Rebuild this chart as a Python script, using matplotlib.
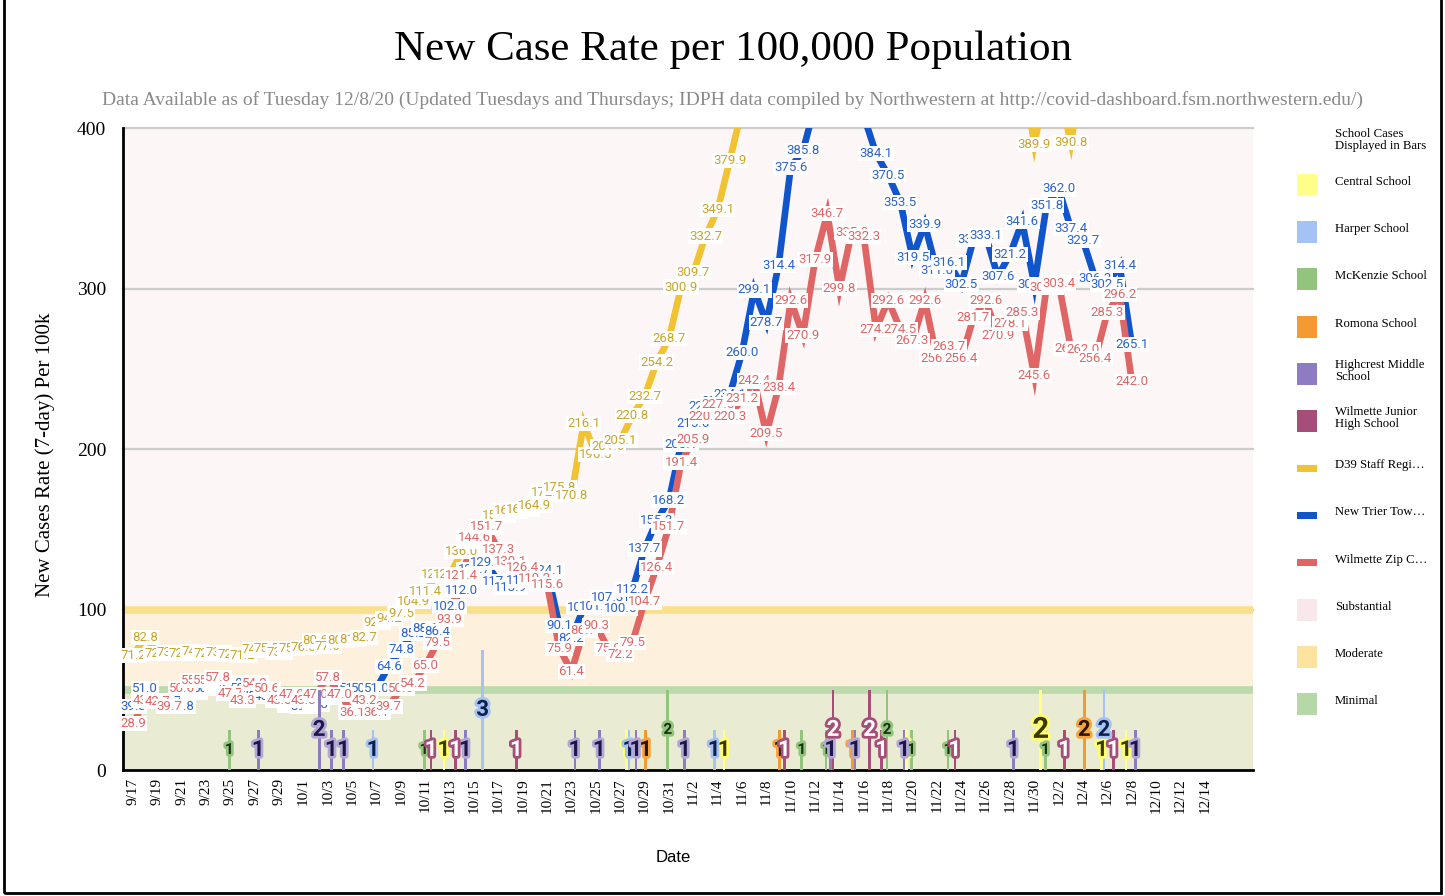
import numpy as np
import pandas as pd
import matplotlib
matplotlib.use('Agg')
import matplotlib.pyplot as plt
import matplotlib.patheffects as pe
from matplotlib.patches import Rectangle

SERIF = ['Liberation Serif', 'DejaVu Serif']
SANS = ['Liberation Sans', 'DejaVu Sans']

# one point a day, 9/17/2020 .. 12/8/2020
start = pd.Timestamp('2020-09-17')
dates = pd.date_range(start, '2020-12-08')
tick_dates = pd.date_range(start, '2020-12-14', freq='2D')
tick_labels = [f'{t.month}/{t.day}' for t in tick_dates]

# 7-day case rate per 100k (values over 400 leave the top of the chart)
d39_staff = [71.2, 82.8, 72.7, 73.4, 72.7, 74.1, 72.7, 73.4, 72.0, 71.2,
             74.8, 75.5, 73.4, 75.5, 76.3, 80.6, 77.0, 80.6, 81.3, 82.7,
             92.0, 94.2, 97.5, 104.9, 111.4, 121.5, 121.5, 136.0, 142.6, 151.0,
             158.8, 161.4, 162.1, 164.9, 172.9, 175.8, 170.8, 216.1, 196.5, 201.6,
             205.1, 220.8, 232.7, 254.2, 268.7, 300.9, 309.7, 332.7, 349.1, 379.9,
             412.0, 431.5, 445.2, 452.4, 468.3, 480.6, 497.2, 502.9, 511.6, 504.3,
             498.1, 489.4, 476.0, 465.8, 452.4, 447.3, 431.4, 425.6, 418.4, 423.3,
             430.5, 438.9, 441.8, 436.1, 389.9, 428.4, 424.9, 390.8, 437.2, 441.3,
             430.2, 426.9, 418.7]
new_trier = [39.3, 51.0, 43.4, 42.7, 39.8, 48.3, 50.6, 53.5, 54.2, 50.6,
             48.3, 45.6, 43.6, 40.5, 39.8, 40.8, 45.1, 47.0, 51.0, 50.6,
             51.0, 64.6, 74.8, 85.2, 88.1, 86.4, 102.0, 112.0, 124.7, 129.1,
             117.4, 113.9, 118.2, 120.9, 124.1, 90.1, 82.2, 101.0, 101.6, 107.3,
             100.5, 112.2, 137.7, 155.3, 168.2, 203.1, 215.6, 226.2, 229.4, 234.1,
             260.0, 299.1, 278.7, 314.4, 375.6, 385.8, 414.2, 431.0, 438.5, 425.6,
             407.3, 384.1, 370.5, 353.5, 319.5, 339.9, 311.0, 316.1, 302.5, 330.4,
             333.1, 307.6, 321.2, 341.6, 302.2, 351.8, 362.0, 337.4, 329.7, 306.3,
             302.5, 314.4, 265.1]
wilmette_zip = [28.9, 43.4, 42.7, 39.7, 50.6, 55.5, 55.5, 57.8, 47.7, 43.3,
                54.2, 50.6, 43.3, 47.0, 43.3, 47.0, 57.8, 47.0, 36.1, 43.2,
                36.1, 39.7, 50.6, 54.2, 65.0, 79.5, 93.9, 121.4, 144.6, 151.7,
                137.3, 130.1, 126.4, 119.2, 115.6, 75.9, 61.4, 86.7, 90.3, 75.9,
                72.2, 79.5, 104.7, 126.4, 151.7, 191.4, 205.9, 220.3, 227.5, 220.3,
                231.2, 242.4, 209.5, 238.4, 292.6, 270.9, 317.9, 346.7, 299.8, 335.0,
                332.3, 274.5, 292.6, 274.5, 267.3, 292.6, 256.4, 263.7, 256.4, 281.7,
                292.6, 270.9, 278.1, 285.3, 245.6, 300.9, 303.4, 262.7, 262.0, 256.4,
                285.3, 296.2, 242.0]

# school cases shown as bars
central_days = ['10/13', '10/28', '11/5', '11/20', '12/1', '12/6', '12/8']
central_cases = [1, 1, 1, 1, 2, 1, 1]
harper_days = ['10/7', '10/16', '10/28', '11/4', '12/6']
harper_cases = [1, 3, 1, 1, 2]
mckenzie_days = ['9/25', '10/11', '10/31', '11/11', '11/13', '11/18', '11/20', '11/23', '12/1']
mckenzie_cases = [1, 1, 2, 1, 1, 2, 1, 1, 1]
romona_days = ['10/29', '11/9', '11/15', '12/4']
romona_cases = [1, 1, 1, 2]
highcrest_days = ['9/27', '10/2', '10/3', '10/4', '10/14', '10/23', '10/25', '10/28',
                  '11/1', '11/13', '11/15', '11/19', '11/28', '12/8']
highcrest_cases = [1, 2, 1, 1, 1, 1, 1, 1, 1, 1, 1, 1, 1, 1]
wjhs_days = ['10/11', '10/13', '10/18', '11/9', '11/13', '11/16', '11/17', '11/23', '12/2', '12/6']
wjhs_cases = [1, 1, 1, 1, 2, 2, 1, 1, 1, 1]

# risk level bands
tier_names = ['Substantial', 'Moderate', 'Minimal']
tier_tops = [400, 100, 50]


def day_index(md):
    m, d = md.split('/')
    return (pd.Timestamp(2020, int(m), int(d)) - start).days


schools = [
    # name, days, cases, bar colour, text colour, halo colour
    ('Central School', central_days, central_cases, '#ffff8a', '#3a3a00', '#ffff70'),
    ('Harper School', harper_days, harper_cases, '#a4c2f4', '#0d1f4a', '#a4c2f4'),
    ('McKenzie School', mckenzie_days, mckenzie_cases, '#93c47d', '#163010', '#93c47d'),
    ('Romona School', romona_days, romona_cases, '#f39a33', '#2a1500', '#f6a33c'),
    ('Highcrest Middle\nSchool', highcrest_days, highcrest_cases, '#8e7cc3', '#1b1748', '#b4a7d6'),
    ('Wilmette Junior\nHigh School', wjhs_days, wjhs_cases, '#a64d79', 'white', '#a64d79'),
]
lines = [
    ('D39 Staff Regi…', d39_staff, '#f1c232', '#c9a52c'),
    ('New Trier Tow…', new_trier, '#1155cc', '#2e63c9'),
    ('Wilmette Zip C…', wilmette_zip, '#e06666', '#e06666'),
]
tier_fill = ['#fcf6f6', '#fdf1dd', '#e9ebd3']
tier_stripe = [None, '#f9e08c', '#bcdaac']
tier_swatch = ['#f9e8ea', '#fde3a0', '#b6d7a8']

fig = plt.figure(figsize=(14.45, 8.96), dpi=100)
ax = fig.add_axes([123 / 1445, 1 - 770 / 896, 1130 / 1445, 642 / 896])
xmin, xmax = -0.82, 91.95
ax.set_xlim(xmin, xmax)
ax.set_ylim(0, 400)

# background bands
for name, top, fc, sc in zip(tier_names, tier_tops, tier_fill, tier_stripe):
    ax.fill_between([xmin, xmax], 0, top, color=fc, lw=0, zorder=0)
for v in [100, 200, 300, 400]:
    ax.axhline(v, color='#cccccc', lw=1.6, zorder=0.5, clip_on=False)
for name, top, fc, sc in zip(tier_names, tier_tops, tier_fill, tier_stripe):
    if sc:
        ax.axhline(top, color=sc, lw=5.5, zorder=0.8)

# rate lines with value labels on each point
x = np.arange(len(dates))
for name, vals, c, tc in lines:
    ax.plot(x, vals, color=c, lw=4.8, solid_joinstyle='miter', zorder=3)
for name, vals, c, tc in lines:
    for xi, v in zip(x, vals):
        if v > 400:
            continue
        ax.text(xi, v, f'{v:.1f}', ha='center', va='center', fontsize=9.5,
                family=['Roboto', 'DejaVu Sans'], color=tc, zorder=4,
                bbox=dict(boxstyle='square,pad=0.08', fc='white', ec='none'))

# school case bars on their own scale
ax2 = ax.twinx()
ax2.set_ylim(0, 16)
ax2.axis('off')
for i, (name, days, cases, bc, tc, hc) in enumerate(schools):
    off = (i - 2.5) * 0.19
    pos = [day_index(d) + off for d in days]
    ax2.bar(pos, cases, width=0.22, color=bc, zorder=2)
    for p, n in zip(pos, cases):
        fs = 16
        if name.startswith('McKenzie'):
            fs = 11
        elif name.startswith('Central') and n > 1:
            fs = 21
        ax2.text(p, n / 2, str(n), ha='center', va='center', fontsize=fs,
                 fontweight='bold', family=['Roboto', 'DejaVu Sans'], color=tc,
                 zorder=5, path_effects=[pe.withStroke(linewidth=4, foreground=hc)])

# axes
for s in ['top', 'right']:
    ax.spines[s].set_visible(False)
ax.spines['left'].set_linewidth(2)
ax.spines['bottom'].set_linewidth(2)
ax.spines['bottom'].set_zorder(6)
ax.set_yticks([0, 100, 200, 300, 400])
ax.set_yticklabels(['0', '100', '200', '300', '400'], family=SERIF, fontsize=14)
ax.set_xticks([(t - start).days for t in tick_dates])
ax.set_xticklabels(tick_labels, rotation=90, family=SERIF, fontsize=11)
ax.tick_params(axis='y', length=0, pad=12)
ax.tick_params(axis='x', length=0, pad=6)

fig.text(733 / 1445, 1 - 50 / 896, 'New Case Rate per 100,000 Population',
         ha='center', va='center', fontsize=31, family=SERIF)
fig.text(732 / 1445, 1 - 100 / 896,
         'Data Available as of Tuesday 12/8/20 (Updated Tuesdays and Thursdays; IDPH data '
         'compiled by Northwestern at http://covid-dashboard.fsm.northwestern.edu/)',
         ha='center', va='center', fontsize=14, color='#8a8a8a', family=SERIF)
fig.text(45 / 1445, 1 - 455 / 896, 'New Cases Rate (7-day) Per 100k', rotation=90,
         ha='center', va='center', fontsize=15, family=SERIF)
fig.text(673 / 1445, 1 - 857 / 896, 'Date', ha='center', va='center',
         fontsize=12, family=SANS)

# legend column on the right
fig.text(1335 / 1445, 1 - 140 / 896, 'School Cases\nDisplayed in Bars', ha='left',
         va='center', fontsize=9.2, family=SERIF, linespacing=1.0)
entries = [(s[0], s[3], 'box') for s in schools]
entries += [(l[0], l[2], 'line') for l in lines]
entries += [(n, c, 'box') for n, c in zip(tier_names, tier_swatch)]
for i, (label, c, kind) in enumerate(entries):
    py = 182 + 47.2 * i
    if kind == 'box':
        w, h = 20, 22
    else:
        w, h = 20, 7
    fig.patches.append(Rectangle(((1307 - w / 2) / 1445, 1 - (py + 3 + h / 2) / 896),
                                 w / 1445, h / 896, transform=fig.transFigure,
                                 color=c, lw=0))
    fig.text(1335 / 1445, 1 - py / 896, label, ha='left', va='center',
             fontsize=9.2, family=SERIF, linespacing=1.0)

# outer frame
fig.patches.append(Rectangle((0.003, 0.003), 0.994, 1.0, transform=fig.transFigure,
                             fill=False, ec='black', lw=2))

fig.savefig('out.png', dpi=100)
